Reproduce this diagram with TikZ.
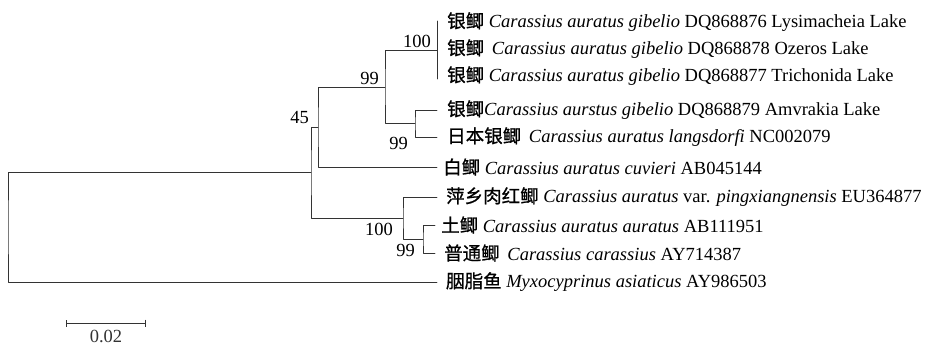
\documentclass[tikz,border=0pt]{standalone}
\usepackage{fontspec}
\setmainfont{Liberation Serif}
\newfontfamily\cjk{Noto Sans CJK SC}[FakeBold=0.8]
\usetikzlibrary{arrows.meta}

\begin{document}
\begin{tikzpicture}[x=1pt, y=-1pt, font=\fontsize{18.5}{21}\selectfont, line join=round, line cap=round,
		branch/.style={line width=0.7pt, black!80},
		taxon/.style={anchor=west, inner sep=0pt, xshift=10pt},
		boot/.style={inner sep=1pt}]
			\useasboundingbox (0,0) rectangle (934,346);
			% leaf tips
			\coordinate (L1) at (437,22);
			\coordinate (L2) at (437,49);
			\coordinate (L3) at (437,76);
			\coordinate (L4) at (437,110);
			\coordinate (L5) at (437,137);
			\coordinate (L6) at (437,167);
			\coordinate (L7) at (437,197);
			\coordinate (L8) at (435,225);
			\coordinate (L9) at (435,253);
			\coordinate (L10) at (437,282);
			% inner nodes
			\coordinate (D) at (437,50);
			\coordinate (E) at (415,123.5);
			\coordinate (C) at (385,87);
			\coordinate (A) at (318,127);
			\coordinate (F) at (423,239);
			\coordinate (B) at (403,218);
			\coordinate (I) at (311,172.5);
			\coordinate (R) at (8,227);
			% branches
			\draw[branch, shorten <=-1pt, shorten >=-3pt] (L1) -- (L3);
			\draw[branch] (D) -| (C) |- (E);
			\draw[branch] (L4) -| (E) |- (L5);
			\draw[branch] (C) -| (A) |- (L6);
			\draw[branch] (A) -| (I) |- (B);
			\draw[branch] (L7) -| (B) |- (F);
			\draw[branch] (L8) -| (F) |- (L9);
			\draw[branch] (I) -| (R) |- (L10);
			% bootstrap values
			\node[boot, anchor=south east] (bD) at ([xshift=-5pt,yshift=1pt]D) {100};
			\node[boot, anchor=south east] (bC) at ([xshift=-5pt,yshift=1pt]C) {99};
			\node[boot, anchor=north east] (bE) at ([xshift=-6pt,yshift=1pt]E |- L5) {99};
			\node[boot, anchor=south east] (bA) at ([xshift=-8pt,yshift=2pt]A) {45};
			\node[boot, anchor=north east] (bB) at ([xshift=-9pt,yshift=-4pt]B) {100};
			\node[boot, anchor=east] (bF) at ([xshift=-7pt,yshift=3pt]F |- L9) {99};
			% taxa
			\node[taxon] (t1) at (L1) {{\cjk 银鲫} \textit{Carassius auratus gibelio} DQ868876 Lysimacheia Lake};
			\node[taxon] (t2) at (L2) {{\cjk 银鲫}\, \textit{Carassius auratus gibelio} DQ868878 Ozeros Lake};
			\node[taxon] (t3) at (L3) {{\cjk 银鲫} \textit{Carassius auratus gibelio} DQ868877 Trichonida Lake};
			\node[taxon] (t4) at (L4) {{\cjk 银鲫}\textit{Carassius aurstus gibelio} DQ868879 Amvrakia Lake};
			\node[taxon] (t5) at (L5) {{\cjk 日本银鲫}\, \textit{Carassius auratus langsdorfi} NC002079};
			\node[taxon, xshift=-4pt] (t6) at (L6) {{\cjk 白鲫} \textit{Carassius auratus cuvieri} AB045144};
			\node[taxon, xshift=-1pt] (t7) at (L7) {{\cjk 萍乡肉红鲫} \textit{Carassius auratus} var. \textit{pingxiangnensis} EU364877};
			\node[taxon, xshift=-4pt] (t8) at (L8) {{\cjk 土鲫} \textit{Carassius auratus auratus} AB111951};
			\node[taxon, xshift=-1pt] (t9) at (L9) {{\cjk 普通鲫}\, \textit{Carassius carassius} AY714387};
			\node[taxon, xshift=-1pt] (t10) at (L10) {{\cjk 胭脂鱼} \textit{Myxocyprinus asiaticus} AY986503};
			% scale bar
			\coordinate (s0) at (66,323);
			\coordinate (s1) at (146,323);
			\draw[branch, {Bar[width=7pt]}-{Bar[width=7pt]}] (s0) -- (s1) node[boot, midway, below=6pt] (sc) {0.02};
		\end{tikzpicture}
\end{document}
